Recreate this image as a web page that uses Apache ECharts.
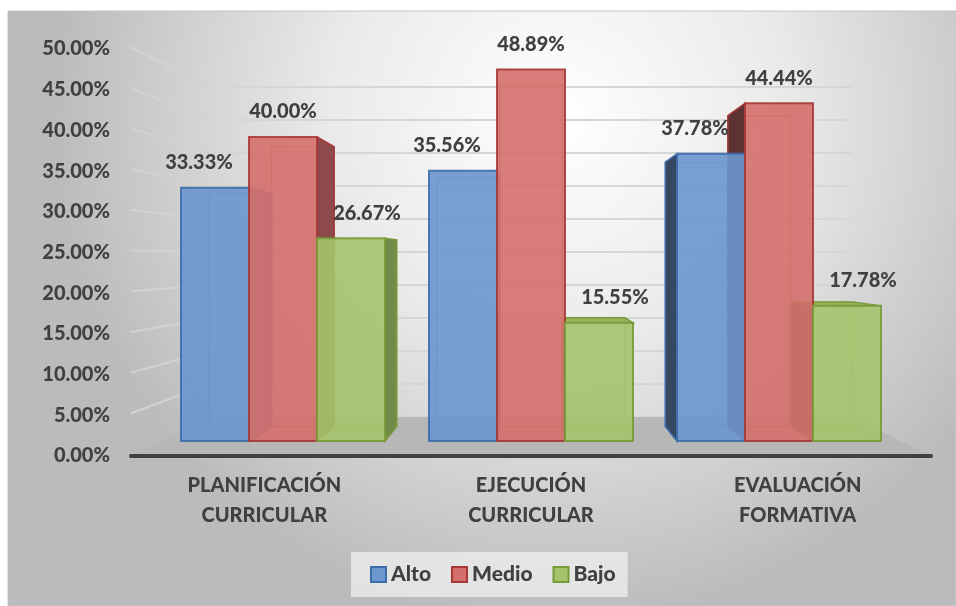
<!DOCTYPE html>
<html>
<head>
<meta charset="utf-8">
<script src="https://cdn.jsdelivr.net/npm/echarts@6/dist/echarts.min.js"></script>
<style>
  html, body { margin: 0; padding: 0; background: #fff; }
  #chart { width: 956px; height: 606px; }
</style>
</head>
<body>
<div id="chart"></div>
<script>
var categories = ["PLANIFICACIÓN\nCURRICULAR", "EJECUCIÓN\nCURRICULAR", "EVALUACIÓN\nFORMATIVA"];
var seriesNames = ["Alto", "Medio", "Bajo"];
var alto = [33.33, 35.56, 37.78];
var medio = [40.0, 48.89, 44.44];
var bajo = [26.67, 15.55, 17.78];
var yMin = 0, yMax = 50, yStep = 5;

// layout (pixels)
var gAxis = { left: 131, right: 25, top: 49, bottom: 150 };   // visible axes
var gBars = { left: 159, right: 53, top: 61, bottom: 165 };   // front plane of the boxes
var gWall = { left: 210, right: 104, top: 87, bottom: 189 };  // back wall
var FONT = "Lato";
var WEIGHT = 900;
var TXT = "#404040";

var palettes = [
  { front: "#6b96ce", border: "#3d6dab", sideR: "#5a7fb0", sideL: "#35485f", top: "#86aadb" },
  { front: "#d46f6c", border: "#a73835", sideR: "#8c4a4a", sideL: "#5c3233", top: "#e38e8b" },
  { front: "#a5c36b", border: "#789a3b", sideR: "#718c48", sideL: "#56693a", top: "#94b45b" }
];

var barRatio = 68 / 248;
var depth = 0.92;
var horizon = 24;

var myChart = echarts.init(document.getElementById("chart"));

function makeRender(idx) {
  var pal = palettes[idx];
  return function (params, api) {
    var cat = api.value(0), val = api.value(1);
    var base = api.coord([cat, 0]);
    var topP = api.coord([cat, val]);
    var bw = api.size([1, 0])[0] * barRatio;
    var xl = base[0] + (idx - 1.5) * bw, xr = xl + bw;
    var yb = base[1], yt = topP[1];
    var v = api.coord([1, horizon]);
    function back(x, y) {
      return [v[0] + (x - v[0]) * depth, v[1] + (y - v[1]) * depth];
    }
    var blt = back(xl, yt), brt = back(xr, yt), blb = back(xl, yb), brb = back(xr, yb);
    var kids = [];
    // back edges, seen through the front
    kids.push({
      type: "polyline", z2: 1,
      shape: { points: [blt, brt, brb, blb, blt] },
      style: { stroke: pal.border, lineWidth: 1.2, fill: null, opacity: 0.6 }
    });
    kids.push({
      type: "polyline", z2: 1,
      shape: { points: [[xl, yb], blb] },
      style: { stroke: pal.border, lineWidth: 1.2, opacity: 0.6 }
    });
    kids.push({
      type: "polyline", z2: 1,
      shape: { points: [[xr, yb], brb] },
      style: { stroke: pal.border, lineWidth: 1.2, opacity: 0.6 }
    });
    if (xr < v[0]) {
      kids.push({
        type: "polygon", z2: 2,
        shape: { points: [[xr, yt], brt, brb, [xr, yb]] },
        style: { fill: pal.sideR, stroke: pal.border, lineWidth: 1.5 }
      });
    }
    if (xl > v[0]) {
      kids.push({
        type: "polygon", z2: 2,
        shape: { points: [[xl, yt], blt, blb, [xl, yb]] },
        style: { fill: pal.sideL, stroke: pal.border, lineWidth: 1.5 }
      });
    }
    if (yt > v[1]) {
      kids.push({
        type: "polygon", z2: 3,
        shape: { points: [[xl, yt], [xr, yt], brt, blt] },
        style: { fill: pal.top, stroke: pal.border, lineWidth: 1.5 }
      });
    }
    kids.push({
      type: "rect", z2: 5,
      shape: { x: xl, y: yt, width: bw, height: yb - yt },
      style: { fill: pal.front, stroke: pal.border, lineWidth: 2, opacity: 0.9 }
    });
    kids.push({
      type: "text", z2: 20,
      style: {
        x: (xl + xr) / 2 + (idx - 1) * 16,
        y: yt - 25,
        text: val.toFixed(2) + "%",
        fill: TXT,
        font: WEIGHT + " 20px " + FONT,
        align: "center",
        verticalAlign: "middle"
      }
    });
    return { type: "group", children: kids };
  };
}

function pairs(arr) {
  return arr.map(function (val, i) { return [i, val]; });
}

var seriesData = [alto, medio, bajo];

myChart.setOption({
  animation: false,
  backgroundColor: "#ffffff",
  textStyle: { fontFamily: FONT },
  legend: {
    left: 351,
    top: 552,
    itemWidth: 15,
    itemHeight: 15,
    itemGap: 20,
    padding: [12, 12, 12, 19],
    backgroundColor: "rgba(236,236,236,0.8)",
    textStyle: { color: TXT, fontSize: 21, fontWeight: WEIGHT, fontFamily: FONT },
    data: seriesNames.map(function (n, i) {
      return {
        name: n,
        icon: "rect",
        itemStyle: { color: palettes[i].front, borderColor: palettes[i].border, borderWidth: 2 }
      };
    })
  },
  grid: [
    { left: gAxis.left, right: gAxis.right, top: gAxis.top, bottom: gAxis.bottom },
    { left: gBars.left, right: gBars.right, top: gBars.top, bottom: gBars.bottom },
    { left: gWall.left, right: gWall.right, top: gWall.top, bottom: gWall.bottom }
  ],
  xAxis: [
    {
      gridIndex: 0, type: "category", data: categories, z: 5,
      axisLine: { lineStyle: { color: "#404040", width: 4 } },
      axisTick: { show: false },
      axisLabel: { color: TXT, fontSize: 20, fontWeight: WEIGHT, lineHeight: 30, margin: 15, fontFamily: FONT }
    },
    { gridIndex: 1, type: "category", data: categories, show: false },
    { gridIndex: 2, type: "category", data: categories, show: false }
  ],
  yAxis: [
    {
      gridIndex: 0, type: "value", min: yMin, max: yMax, interval: yStep,
      axisLine: { show: false }, axisTick: { show: false }, splitLine: { show: false },
      axisLabel: {
        color: TXT, fontSize: 20, fontWeight: WEIGHT, margin: 21, fontFamily: FONT,
        formatter: function (v) { return v.toFixed(2) + "%"; }
      }
    },
    { gridIndex: 1, type: "value", min: yMin, max: yMax, show: false },
    {
      gridIndex: 2, type: "value", min: yMin, max: yMax, interval: yStep,
      axisLine: { show: false }, axisTick: { show: false }, axisLabel: { show: false },
      splitLine: { lineStyle: { color: "#d6d6d6", width: 2 } }
    }
  ],
  series: seriesNames.map(function (n, i) {
    return {
      name: n,
      type: "custom",
      xAxisIndex: 1,
      yAxisIndex: 1,
      z: 3,
      itemStyle: { color: palettes[i].front, borderColor: palettes[i].border },
      renderItem: makeRender(i),
      data: pairs(seriesData[i])
    };
  })
});

// chart background, floor and side-wall lines built from the axes
var W = 956, H = 606;
var axLeft = gAxis.left, axRight = W - gAxis.right;
var wallLeft = gWall.left, wallRight = W - gWall.right;
var y0Axis = myChart.convertToPixel({ yAxisIndex: 0 }, 0);
var y0Wall = myChart.convertToPixel({ yAxisIndex: 2 }, 0);

var graphics = [
  {
    type: "rect", z: -10, silent: true,
    shape: { x: 8, y: 11, width: W - 8, height: H - 11 },
    style: {
      fill: new echarts.graphic.RadialGradient(0.58, 0.18, 0.85, [
        { offset: 0, color: "#ffffff" },
        { offset: 0.45, color: "#eaeaea" },
        { offset: 1, color: "#bbbbbb" }
      ]),
      stroke: "#c4c4c4",
      lineWidth: 1
    }
  },
  {
    type: "polygon", z: 1, silent: true,
    shape: { points: [[axLeft, y0Axis], [axRight, y0Axis], [wallRight, y0Wall], [wallLeft, y0Wall]] },
    style: { fill: "#b7b7b7" }
  }
];
for (var t = yMin + yStep; t <= yMax; t += yStep) {
  graphics.push({
    type: "line", z: 0, silent: true,
    shape: {
      x1: axLeft, y1: myChart.convertToPixel({ yAxisIndex: 0 }, t) - 2,
      x2: wallLeft, y2: myChart.convertToPixel({ yAxisIndex: 2 }, t)
    },
    style: { stroke: "#d2d2d2", lineWidth: 2 }
  });
}
myChart.setOption({ graphic: graphics });
</script>
</body>
</html>
